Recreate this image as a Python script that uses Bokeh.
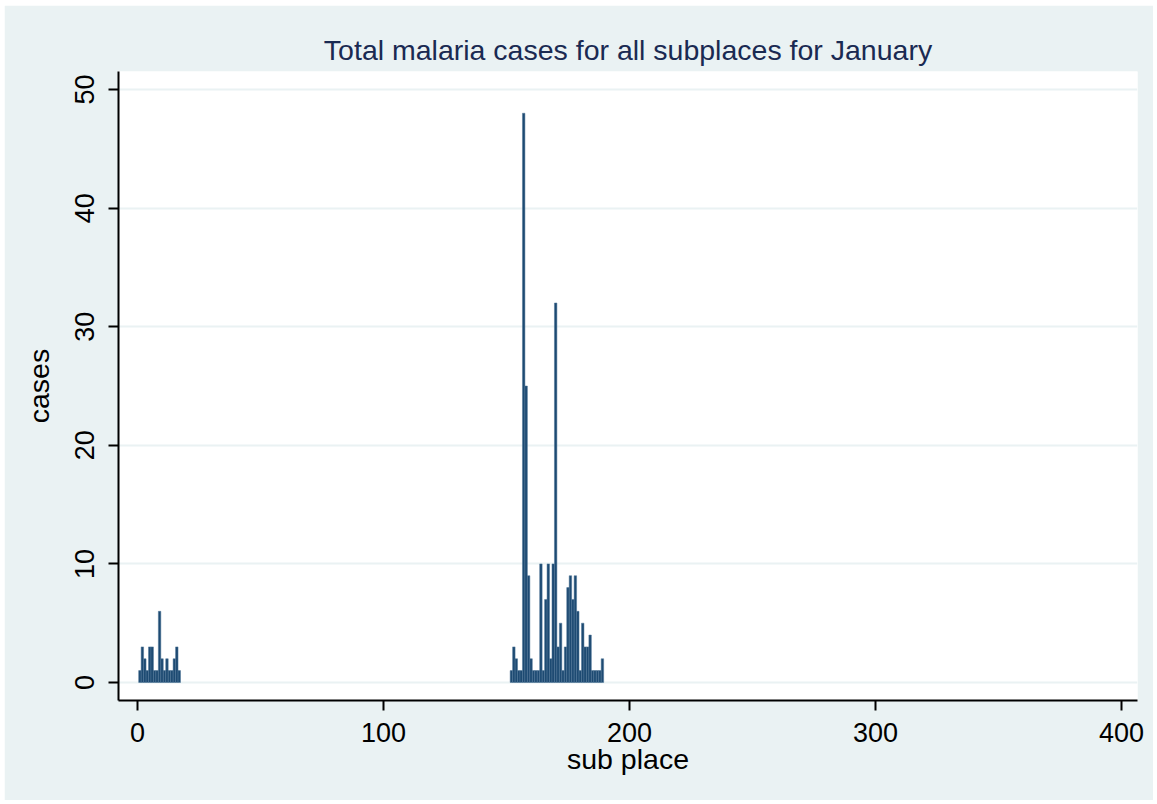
from bokeh.plotting import figure
from bokeh.models import ColumnDataSource, Range1d, FixedTicker
from bokeh.embed import file_html
from bokeh.resources import INLINE

# data
subplace = [1, 2, 3, 4, 5, 6, 7, 8, 9, 10, 11, 12, 13, 14, 15, 16, 17,
            152, 153, 154, 155, 156, 157, 158, 159, 160, 161, 162, 163, 164, 165,
            166, 167, 168, 169, 170, 171, 172, 173, 174, 175, 176, 177, 178, 179,
            180, 181, 182, 183, 184, 185, 186, 187, 188, 189]
cases = [1, 3, 2, 1, 3, 3, 1, 1, 6, 2, 1, 2, 1, 1, 2, 3, 1,
         1, 3, 2, 1, 1, 48, 25, 9, 2, 1, 1, 1, 10, 1,
         7, 10, 2, 10, 32, 3, 5, 1, 3, 8, 9, 7, 9, 6,
         1, 5, 3, 3, 4, 1, 1, 1, 1, 2]
x_ticks = [0, 100, 200, 300, 400]
y_ticks = [0, 10, 20, 30, 40, 50]

BG = "#EAF2F3"
FONT = "Liberation Sans"

src = ColumnDataSource(dict(x=subplace, top=cases))

p = figure(width=1149, height=795, output_backend="svg", toolbar_location=None,
           x_range=Range1d(-7.7, 406.5), y_range=Range1d(-1.52, 51.52),
           title="Total malaria cases for all subplaces for January",
           min_border_left=114, min_border_right=16, min_border_top=66,
           min_border_bottom=100)
p.styles = {"margin-left": "4px", "margin-top": "5px"}

p.background_fill_color = "white"
p.border_fill_color = BG
p.outline_line_color = None

p.vbar(x="x", top="top", bottom=0, width=1, source=src,
       fill_color="#1d4a72", line_color="#4f7597", line_width=0.5)

p.title.align = "center"
p.title.text_font = FONT
p.title.text_font_size = "28.5px"
p.title.text_font_style = "normal"
p.title.text_color = "#1a2a52"
p.title.standoff = 12

p.xgrid.visible = False
p.ygrid.ticker = FixedTicker(ticks=y_ticks)
p.ygrid.grid_line_color = BG
p.ygrid.grid_line_width = 2

p.xaxis.ticker = FixedTicker(ticks=x_ticks)
p.yaxis.ticker = FixedTicker(ticks=y_ticks)
p.xaxis.axis_label = "sub place"
p.yaxis.axis_label = "cases"
p.yaxis.major_label_orientation = "vertical"

for ax in (p.xaxis[0], p.yaxis[0]):
    ax.axis_line_color = "black"
    ax.axis_line_width = 2
    ax.major_tick_line_color = "black"
    ax.major_tick_line_width = 2
    ax.major_tick_out = 10
    ax.major_tick_in = 0
    ax.minor_tick_line_color = None
    ax.major_label_text_font = FONT
    ax.major_label_text_font_size = "27px"
    ax.major_label_text_color = "black"
    ax.axis_label_text_font = FONT
    ax.axis_label_text_font_size = "28.5px"
    ax.axis_label_text_font_style = "normal"
    ax.axis_label_text_color = "black"

p.xaxis.major_label_standoff = 12
p.xaxis.axis_label_standoff = -2
p.yaxis.major_label_standoff = 14
p.yaxis.axis_label_standoff = 18

open("out.html", "w").write(file_html(p, INLINE))
